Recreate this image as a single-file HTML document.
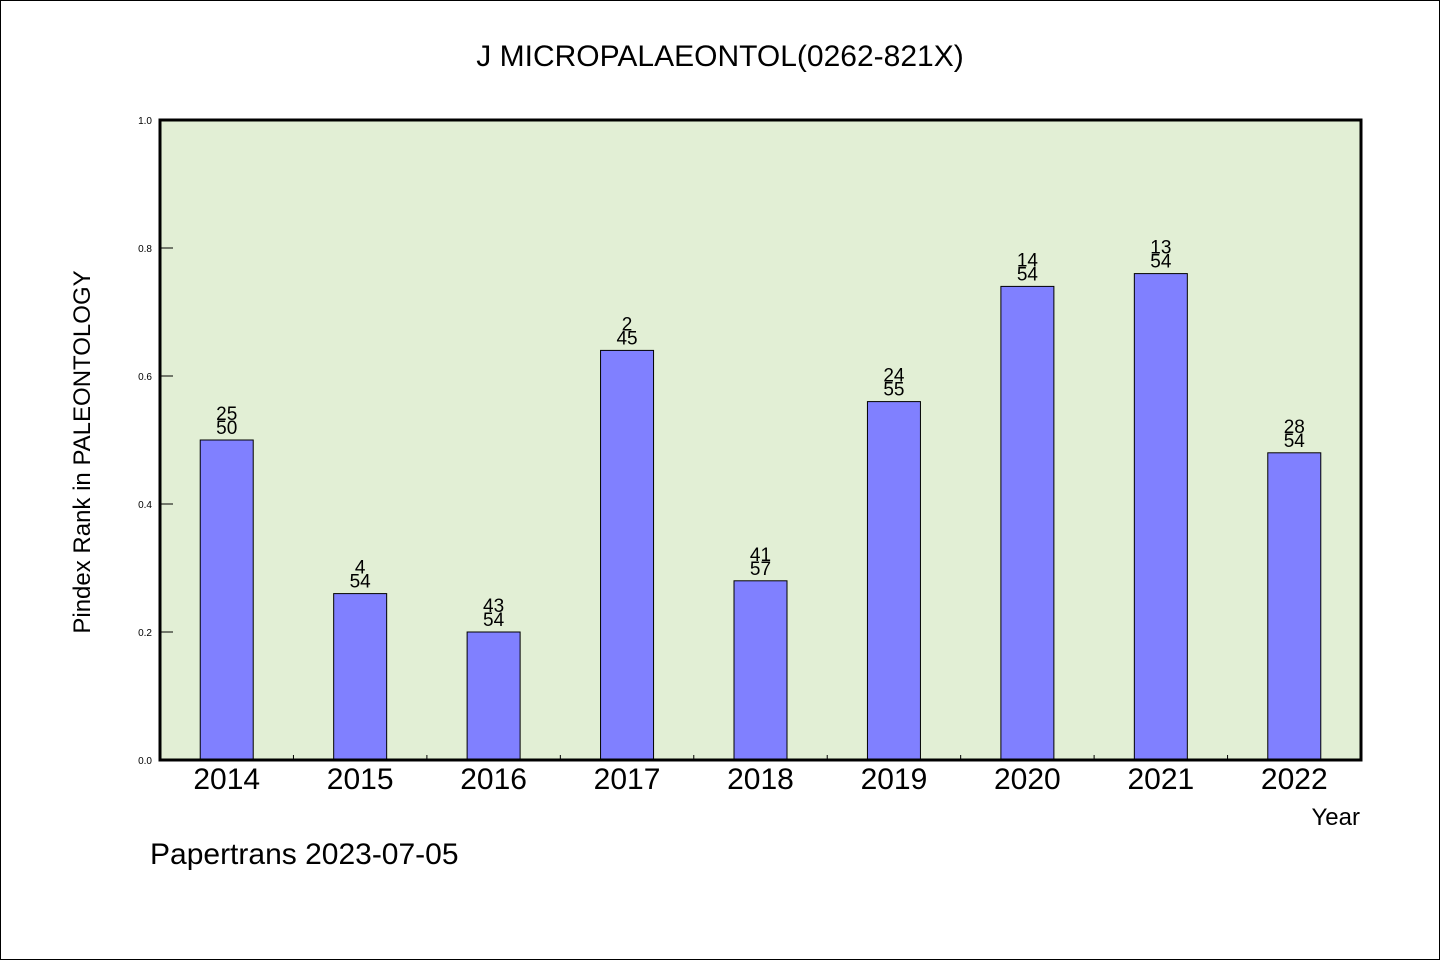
<!DOCTYPE html>
<html><head><meta charset="utf-8"><style>
body{margin:0;background:#fff}
svg{display:block;font-family:"WenQuanYi Zen Hei","Liberation Sans",sans-serif}
</style></head><body>
<svg id="c" width="1440" height="960">
<rect x="0.5" y="0.5" width="1439" height="959" fill="#fff" stroke="#000"/>
<text x="720" y="66" font-size="30" text-anchor="middle">J MICROPALAEONTOL(0262-821X)</text>
<rect x="160" y="120" width="1201" height="640" fill="#e2efd5"/>
<g id="bars"></g>
<rect x="160" y="120" width="1201" height="640" fill="none" stroke="#000" stroke-width="3"/>
<text transform="translate(90,452) rotate(-90)" font-size="24" text-anchor="middle">Pindex Rank in PALEONTOLOGY</text>
<text x="1360" y="825" font-size="24" text-anchor="end">Year</text>
<text x="150" y="864" font-size="30">Papertrans 2023-07-05</text>
</svg>
<script>
const years=["2014","2015","2016","2017","2018","2019","2020","2021","2022"];
const values=[0.5,0.26,0.2,0.64,0.28,0.56,0.74,0.76,0.48];
const ranks=["25","4","43","2","41","24","14","13","28"];
const totals=["50","54","54","45","57","55","54","54","54"];
const yTicks=["0.0","0.2","0.4","0.6","0.8","1.0"];
const NS="http://www.w3.org/2000/svg";
const L=160,R=1361,T=120,B=760;
const bw=(R-L)/years.length;
const x=i=>L+bw*(i+0.5);
const y=v=>B-(B-T)*v;
const g=document.getElementById('bars');
function mk(t,a,txt){const e=document.createElementNS(NS,t);for(const k in a)e.setAttribute(k,a[k]);if(txt!==undefined)e.textContent=txt;g.appendChild(e);return e;}
years.forEach((yr,i)=>{
 const b=mk('rect',{x:x(i)-26.5,y:y(values[i]),width:53,height:B-y(values[i]),fill:'#8080ff',stroke:'#000','stroke-width':1});
 
 
 const t1=mk('text',{x:x(i),y:y(values[i])-20,'font-size':19,'text-anchor':'middle'},ranks[i]);
 
 
 const t2=mk('text',{x:x(i),y:y(values[i])-6,'font-size':19,'text-anchor':'middle'},totals[i]);
 
 
 const xl=mk('text',{x:x(i),y:789,'font-size':30,'text-anchor':'middle'},yr);
 
 
 if(i>0){const tk=mk('line',{x1:L+bw*i,x2:L+bw*i,y1:B,y2:B-5,stroke:'#000'});
 
 }
});
yTicks.forEach(s=>{
 const v=parseFloat(s);
 const tk=mk('line',{x1:L,x2:L+13,y1:y(v),y2:y(v),stroke:'#000'});
 
 
 const tl=mk('text',{x:152,y:y(v)+4,'font-size':10,'text-anchor':'end'},s);
 
 
});
</script>
</body></html>
